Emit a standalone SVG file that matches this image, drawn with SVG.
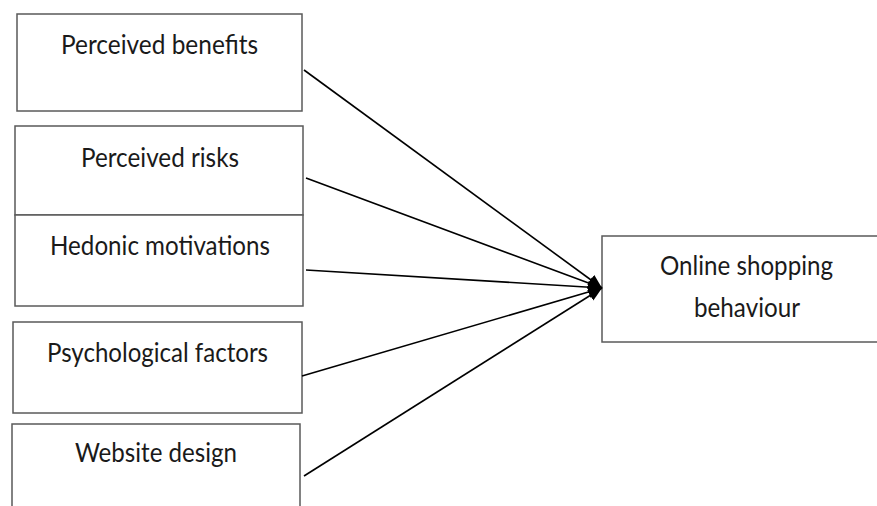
<svg xmlns="http://www.w3.org/2000/svg" width="877" height="506" viewBox="0 0 877 506">
<defs>
<style>
.box{fill:#fff;stroke:#5a5a5a;stroke-width:1.5}
.lbl{font-family:Lato,"Open Sans","Noto Sans",sans-serif;font-size:26.5px;fill:#1a1a1a}
.edge{stroke:#000;stroke-width:1.6;fill:none;marker-end:url(#arr)}
</style>
<marker id="arr" markerUnits="userSpaceOnUse" markerWidth="16" markerHeight="14" refX="14" refY="6" orient="auto" viewBox="0 0 16 12">
<path d="M0,0 L14,6 L0,12 z" fill="#000"/>
</marker>
</defs>
<rect width="877" height="506" fill="#fff"/>
<g id="n1"><rect class="box" x="17" y="14" width="285" height="97"/><text class="lbl" x="61" y="54" textLength="197" lengthAdjust="spacingAndGlyphs">Perceived benefits</text></g>
<g id="n2"><rect class="box" x="15" y="126" width="288" height="89"/><text class="lbl" x="81" y="167" textLength="158" lengthAdjust="spacingAndGlyphs">Perceived risks</text></g>
<g id="n3"><rect class="box" x="15" y="215" width="288" height="91"/><text class="lbl" x="50" y="255" textLength="220" lengthAdjust="spacingAndGlyphs">Hedonic motivations</text></g>
<g id="n4"><rect class="box" x="13" y="322" width="289" height="91"/><text class="lbl" x="47" y="362" textLength="221" lengthAdjust="spacingAndGlyphs">Psychological factors</text></g>
<g id="n5"><rect class="box" x="12" y="424" width="288" height="90"/><text class="lbl" x="75" y="462" textLength="162" lengthAdjust="spacingAndGlyphs">Website design</text></g>
<g id="n6"><rect class="box" x="602" y="236" width="290" height="106"/><text class="lbl" x="660" y="275" textLength="173" lengthAdjust="spacingAndGlyphs">Online shopping</text><text class="lbl" x="694" y="317" textLength="106" lengthAdjust="spacingAndGlyphs">behaviour</text></g>
<g id="connectors">
<line class="edge" x1="304" y1="70" x2="602" y2="288"/>
<line class="edge" x1="306" y1="178" x2="602" y2="288"/>
<line class="edge" x1="306" y1="270" x2="602" y2="288"/>
<line class="edge" x1="302" y1="376" x2="602" y2="288"/>
<line class="edge" x1="304" y1="476" x2="602" y2="288"/>
</g>
</svg>
